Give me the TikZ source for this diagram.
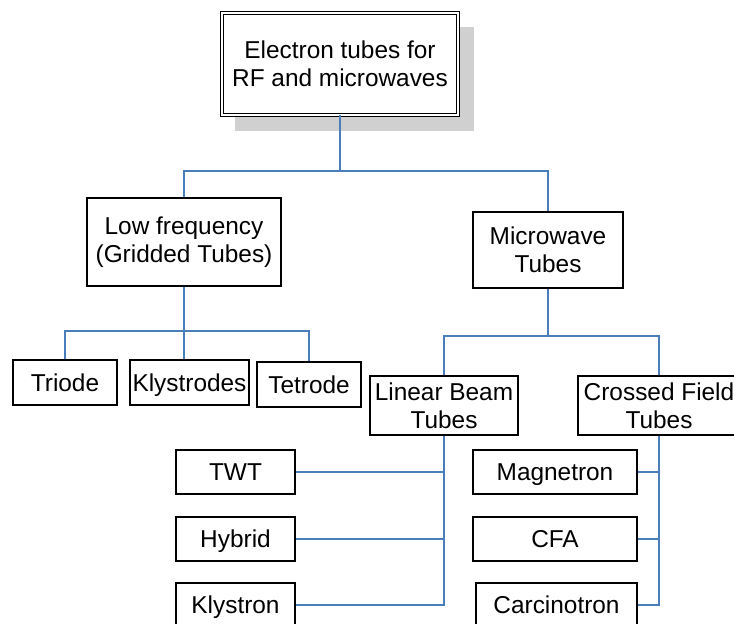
\documentclass[tikz,border=0pt]{standalone}
\usepackage{fontspec}
\setmainfont{Liberation Sans}
\begin{document}
\begin{tikzpicture}[x=1pt,y=-1pt,
  box/.style={draw=black,line width=1.1pt,fill=white,rectangle,inner sep=0pt,align=center,
    font=\fontsize{24.4}{28}\selectfont},
  onebox/.style={box,text height=17.5pt,text depth=0pt},
  conn/.style={draw=linkblue,line width=1.4pt}]
\definecolor{linkblue}{HTML}{4A7EBB}
\definecolor{shadowgray}{HTML}{D0D0D0}
\useasboundingbox (0,0) rectangle (734,624);
% shadow of the title box
\fill[shadowgray] (235,27) rectangle (474,131);
\node[box,double=white,double distance=2pt,line width=0.9pt,minimum width=236pt,minimum height=102pt] (top) at (340,64) {Electron tubes for\\RF and microwaves};
\node[box,minimum width=194pt,minimum height=88pt] (low) at (184,242) {Low frequency\\(Gridded Tubes)};
\node[box,minimum width=150pt,minimum height=76pt] (micro) at (548,250) {Microwave\\Tubes};
\node[onebox,minimum width=104pt,minimum height=45pt] (triode) at (65,382.5) {Triode};
\node[onebox,minimum width=119pt,minimum height=45pt] (klystrodes) at (189.5,382.5) {Klystrodes};
\node[onebox,minimum width=104pt,minimum height=45pt] (tetrode) at (309,384.5) {Tetrode};
\node[box,minimum width=148pt,minimum height=59pt] (linear) at (444,405.5) {Linear Beam\\Tubes};
\node[box,minimum width=162pt,minimum height=59pt] (crossed) at (659,405.5) {Crossed Field\\Tubes};
\node[onebox,minimum width=119pt,minimum height=44pt] (twt) at (235.5,472) {TWT};
\node[onebox,minimum width=119pt,minimum height=44pt] (hybrid) at (235.5,539) {Hybrid};
\node[onebox,minimum width=119pt,minimum height=44pt] (klystron) at (235.5,605) {Klystron};
\node[onebox,minimum width=164pt,minimum height=44pt] (magnetron) at (555,472) {Magnetron};
\node[onebox,minimum width=164pt,minimum height=44pt] (cfa) at (555,539) {CFA};
\node[onebox,minimum width=161pt,minimum height=44pt] (carcinotron) at (556.5,605) {Carcinotron};
% connectors
\coordinate (b1) at (340,171);
\coordinate (b2) at (184,331);
\coordinate (b3) at (548,336);
\draw[conn] (top.south) -- (b1);
\draw[conn] (low.north) |- (b1) -| (micro.north);
\draw[conn] (low.south) -- (b2);
\draw[conn] (triode.north) |- (b2) -| (tetrode.north);
\draw[conn] (b2) -- (b2 |- klystrodes.north);
\draw[conn] (micro.south) -- (b3);
\draw[conn] (linear.north) |- (b3) -| (crossed.north);
\draw[conn] (linear.south) |- (klystron.east);
\draw[conn] (twt.east) -- (twt.east -| linear.south);
\draw[conn] (hybrid.east) -- (hybrid.east -| linear.south);
\draw[conn] (crossed.south) |- (carcinotron.east);
\draw[conn] (magnetron.east) -- (magnetron.east -| crossed.south);
\draw[conn] (cfa.east) -- (cfa.east -| crossed.south);
\end{tikzpicture}
\end{document}
